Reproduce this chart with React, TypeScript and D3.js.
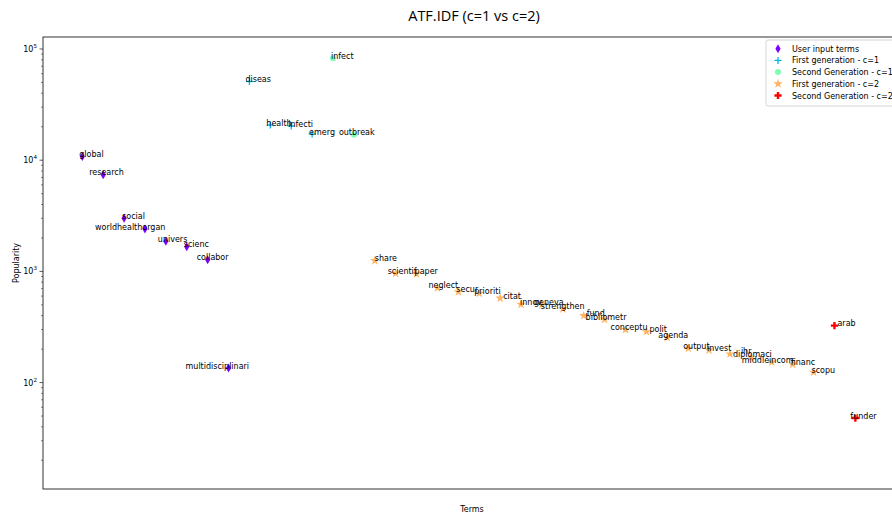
import React from 'react';
import * as d3 from 'd3';

const terms = [
  'global', 'research', 'social', 'worldhealthorgan', 'univers', 'scienc', 'collabor', 'multidisciplinari',
  'diseas', 'health', 'infecti', 'emerg', 'infect', 'outbreak',
  'share', 'scientif', 'paper', 'neglect', 'secur', 'prioriti', 'citat', 'innov', 'geneva', 'strengthen',
  'fund', 'bibliometr', 'conceptu', 'polit', 'agenda', 'output', 'invest', 'diplomaci', 'ihr', 'middleincom',
  'financ', 'scopu', 'arab', 'funder',
];

const popularity = [
  10800, 7400, 3000, 2400, 1870, 1670, 1270, 135,
  51000, 20700, 20300, 17200, 82500, 16900,
  1250, 960, 950, 710, 655, 635, 575, 505, 500, 460,
  400, 370, 300, 287, 255, 203, 196, 181, 169, 153,
  146, 124, 325, 48,
];

// 0 user input, 1 first gen c=1, 2 second gen c=1, 3 first gen c=2, 4 second gen c=2
const groupOf = [
  0, 0, 0, 0, 0, 0, 0, 0,
  1, 1, 1, 1, 2, 2,
  3, 3, 3, 3, 3, 3, 3, 3, 3, 3,
  3, 3, 3, 3, 3, 3, 3, 3, 3, 3,
  3, 3, 4, 4,
];

const seriesNames = [
  'User input terms',
  'First generation - c=1',
  'Second Generation - c=1',
  'First generation - c=2',
  'Second Generation - c=2',
];

const seriesColors = ['#8000ff', '#00b5eb', '#80ffb4', '#ffb462', '#ff0000'];

// label placement offsets (text anchor relative to marker)
const labelDx: Record<string, number> = {
  global: -3, research: -14, social: -2, worldhealthorgan: -50, univers: -8, scienc: -3, collabor: -11,
  multidisciplinari: -43, diseas: -4, health: -4, infecti: -3, emerg: -3, infect: -2, outbreak: -15,
  share: 0, scientif: -8, paper: -2, neglect: -9, secur: -2, prioriti: -5, citat: 3, innov: -1, geneva: -8,
  strengthen: -22, fund: 3, bibliometr: -19, conceptu: -15, polit: 3, agenda: -9, output: -5, invest: -2,
  diplomaci: 3, ihr: -10, middleincom: -30, financ: -2, scopu: -2, arab: 3, funder: -5,
};
const labelDy: Record<string, number> = { diplomaci: 3, ihr: -4 };

function Marker({ g, cx, cy, color }: { g: number; cx: number; cy: number; color: string }) {
  if (g === 0) {
    return <path d={`M${cx},${cy - 4.5}L${cx + 2.6},${cy}L${cx},${cy + 4.5}L${cx - 2.6},${cy}Z`} fill={color} />;
  }
  if (g === 1) {
    return (
      <g stroke={color} strokeWidth={1.3}>
        <line x1={cx - 3.5} x2={cx + 3.5} y1={cy} y2={cy} />
        <line x1={cx} x2={cx} y1={cy - 3.5} y2={cy + 3.5} />
      </g>
    );
  }
  if (g === 2) {
    return <circle cx={cx} cy={cy} r={3} fill={color} />;
  }
  if (g === 3) {
    const star = d3.symbol().type(d3.symbolStar).size(28)();
    return <path d={star || ''} transform={`translate(${cx},${cy})`} fill={color} />;
  }
  const a = 1.2, b = 3.6;
  return (
    <path
      d={`M${cx - a},${cy - b}H${cx + a}V${cy - a}H${cx + b}V${cy + a}H${cx + a}V${cy + b}H${cx - a}V${cy + a}H${cx - b}V${cy - a}H${cx - a}Z`}
      fill={color}
    />
  );
}

export default function App() {
  const W = 892, H = 515;
  const left = 43, top = 37, bottom = 489, right = 894;
  const x = d3.scaleLinear().domain([-1.88, 38.85]).range([left, right]);
  const y = d3.scaleLog().domain([Math.pow(10, 1.043), Math.pow(10, 5.108)]).range([bottom, top]);

  const majors = [100, 1000, 10000, 100000];
  const minors: number[] = [];
  for (let e = 1; e <= 5; e++) {
    for (let m = 2; m <= 9; m++) {
      const v = m * Math.pow(10, e);
      if (v >= y.domain()[0] && v <= y.domain()[1]) minors.push(v);
    }
  }
  const font = 'DejaVu Sans, sans-serif';

  return (
    <svg width={W} height={H} style={{ position: 'absolute', left: 0, top: 0, background: '#fff' }}>
      <text x={474} y={21} textAnchor="middle" fontFamily="Open Sans, sans-serif" fontSize={14.5} fill="#000">
        ATF.IDF (c=1 vs c=2)
      </text>

      {/* spines */}
      <rect x={left} y={top} width={right - left} height={bottom - top} fill="none" stroke="#333" strokeWidth={1} />

      {/* y ticks */}
      {majors.map((v) => (
        <g key={'M' + v}>
          <line x1={left - 3.5} x2={left} y1={y(v)} y2={y(v)} stroke="#333" strokeWidth={0.8} />
          <text x={left - 6} y={y(v) + 3} textAnchor="end" fontFamily={font} fontSize={8} fill="#000">
            10
            <tspan dy={-4} fontSize={5.6}>{Math.round(Math.log10(v))}</tspan>
          </text>
        </g>
      ))}
      {minors.map((v) => (
        <line key={'m' + v} x1={left - 2} x2={left} y1={y(v)} y2={y(v)} stroke="#333" strokeWidth={0.6} />
      ))}

      <text
        transform={`translate(19,${(top + bottom) / 2}) rotate(-90)`}
        textAnchor="middle"
        fontFamily={font}
        fontSize={8}
        fill="#000"
      >
        Popularity
      </text>
      <text x={472} y={512} textAnchor="middle" fontFamily={font} fontSize={8} fill="#000">
        Terms
      </text>

      {/* points */}
      {terms.map((t, i) => (
        <Marker key={'p' + t} g={groupOf[i]} cx={x(i)} cy={y(popularity[i])} color={seriesColors[groupOf[i]]} />
      ))}
      {terms.map((t, i) => (
        <text
          key={'l' + t}
          x={x(i) + (labelDx[t] ?? 0)}
          y={y(popularity[i]) + 0.5 + (labelDy[t] ?? 0)}
          fontFamily={font}
          fontSize={8}
          fill="#000"
        >
          {t}
        </text>
      ))}

      {/* legend */}
      <rect x={766} y={40} width={140} height={66} rx={2} fill="#fff" fillOpacity={0.8} stroke="#ccc" strokeWidth={0.8} />
      {seriesNames.map((n, k) => {
        const cy = 48.7 + k * 11.7;
        return (
          <g key={'lg' + k}>
            <Marker g={k} cx={778} cy={cy} color={seriesColors[k]} />
            <text x={792} y={cy + 3} fontFamily={font} fontSize={8} fill="#000">
              {n}
            </text>
          </g>
        );
      })}
    </svg>
  );
}
